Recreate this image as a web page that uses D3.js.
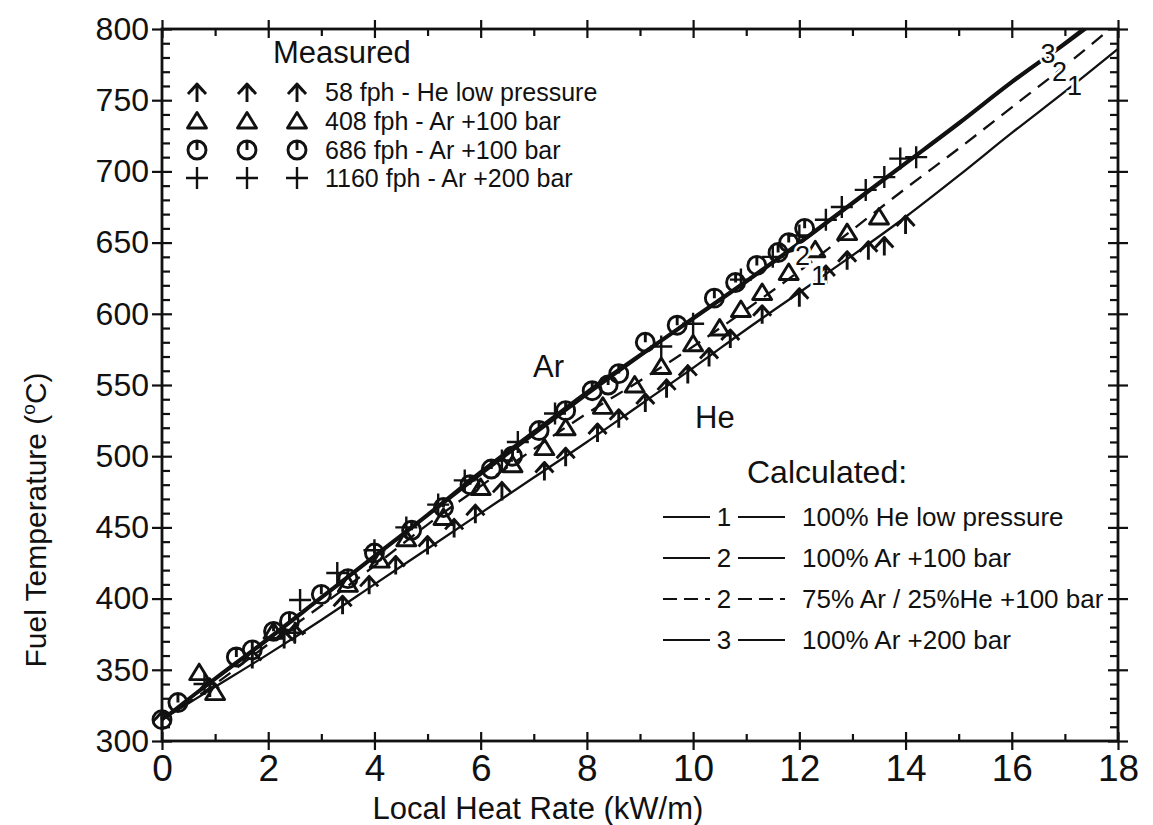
<!DOCTYPE html>
<html>
<head>
<meta charset="utf-8">
<script src="https://cdn.jsdelivr.net/npm/d3@7/dist/d3.min.js"></script>
<style>
  body { margin: 0; background: #fff; }
  text { font-family: "Liberation Sans", Arial, Helvetica, sans-serif; fill: #111; }
  .tick line { stroke: #111; stroke-width: 2.2; }
  .tick text { fill: #111; }
  .curve { fill: none; stroke: #111; }
  .mark { fill: none; stroke: #111; stroke-linejoin: round; }
</style>
</head>
<body>
<div class="d3Area"></div>
<script>
// ticks
let xTicks = [0, 2, 4, 6, 8, 10, 12, 14, 16, 18];
let xMinor = [1, 3, 5, 7, 9, 11, 13, 15, 17];
let yTicks = [300, 350, 400, 450, 500, 550, 600, 650, 700, 750, 800];
let yMinor = d3.range(310, 800, 10).filter((v) => v % 50 !== 0);

// measured points [kW/m, degC]
let he58 = [
  [0, 315], [0.9, 338], [1.7, 358], [2.3, 372], [2.5, 376], [3.4, 396], [3.9, 410],
  [4.4, 424], [5.0, 438], [5.5, 450], [5.9, 460], [6.4, 476], [7.2, 490], [7.6, 500],
  [8.2, 517], [8.6, 527], [9.1, 538], [9.5, 548], [9.9, 558], [10.3, 570], [10.7, 583],
  [11.3, 600], [12.0, 612], [12.5, 628], [12.9, 638], [13.3, 645], [13.6, 648], [14.0, 663]
];
let ar408 = [
  [0.7, 348], [1.0, 334], [2.1, 377], [3.5, 410], [4.1, 427], [4.6, 442], [5.3, 457],
  [6.0, 478], [6.6, 494], [7.2, 506], [7.6, 520], [8.3, 535], [8.9, 550], [9.4, 563],
  [10.0, 579], [10.5, 590], [10.9, 603], [11.3, 615], [11.8, 629], [12.3, 645],
  [12.9, 657], [13.5, 668]
];
let ar686 = [
  [0, 315], [0.3, 327], [1.4, 359], [1.7, 364], [2.1, 377], [2.4, 384], [3.0, 403],
  [3.5, 414], [4.0, 432], [4.7, 448], [5.3, 464], [5.8, 480], [6.2, 491], [6.6, 500],
  [7.1, 518], [7.6, 532], [8.1, 546], [8.4, 550], [8.6, 558], [9.1, 580], [9.7, 592],
  [10.4, 611], [10.8, 622], [11.2, 634], [11.6, 643], [11.8, 650], [12.1, 660]
];
let ar1160 = [
  [0.8, 340], [2.5, 376], [2.6, 399], [3.3, 418], [4.0, 434], [4.6, 450], [5.2, 466],
  [5.7, 483], [6.4, 497], [6.7, 510], [7.4, 530], [9.4, 577], [10.0, 593], [10.9, 624],
  [11.5, 640], [12.0, 655], [12.5, 666], [12.8, 675], [13.25, 687], [13.6, 696],
  [13.9, 709], [14.2, 710]
];

// calculated curves
let calc1 = [
  [0, 315], [1, 338], [2, 361], [3, 385], [4, 410], [5, 435], [6, 460], [7, 485],
  [8, 510], [9, 536], [10, 562], [11, 589], [12, 615], [13, 641], [14, 668],
  [15, 697], [16, 727], [17, 756], [18, 786]
];
let calc2 = [
  [0, 315], [1, 343], [2, 371], [3, 400], [4, 429], [5, 458], [6, 487], [7, 515],
  [8, 543], [9, 570], [10, 596], [11, 622], [12, 649], [13, 677], [14, 705],
  [15, 733], [16, 762], [17, 789], [17.4, 800]
];
let calc2b = [
  [0, 315], [1, 340], [2, 368], [3, 395], [4, 423], [5, 452], [6, 479], [7, 505],
  [8, 530], [9, 553], [10, 577], [11, 603], [12, 630], [13, 659], [14, 688],
  [15, 716], [16, 745], [17, 774], [17.85, 800]
];
let calc3 = [
  [0, 315], [1, 344], [2, 372], [3, 401], [4, 430], [5, 459], [6, 489], [7, 517],
  [8, 545], [9, 571], [10, 597], [11, 623], [12, 650], [13, 678], [14, 706],
  [15, 734], [16, 763], [17, 790], [17.35, 800]
];

let measuredNames = [
  "58 fph - He low pressure",
  "408 fph - Ar +100 bar",
  "686 fph - Ar +100 bar",
  "1160 fph - Ar +200 bar"
];
let calcNames = [
  "100% He low pressure",
  "100% Ar +100 bar",
  "75% Ar / 25%He +100 bar",
  "100% Ar +200 bar"
];
let calcTags = ["1", "2", "2", "3"];

let outerWidth = 1153,
  outerHeight = 825;
let margin = { top: 29, right: 35, bottom: 84, left: 162 };
let width = outerWidth - margin.left - margin.right,
  height = outerHeight - margin.top - margin.bottom;

let svg = d3
  .select(".d3Area")
  .append("svg")
  .attr("width", outerWidth)
  .attr("height", outerHeight);

let g = svg
  .append("g")
  .attr("transform", "translate(" + margin.left + "," + margin.top + ")");

let x = d3.scaleLinear().domain([0, 18]).range([0, width]);
let y = d3.scaleLinear().domain([300, 800]).range([height, 0]);

function noDomain(sel) {
  sel.select(".domain").remove();
}

// bottom axis: labels + ticks crossing the frame
g.append("g")
  .attr("transform", "translate(0," + height + ")")
  .call(d3.axisBottom(x).tickValues(xTicks).tickSize(9).tickPadding(5))
  .call(noDomain)
  .selectAll("text")
  .style("font-size", "37px");
g.append("g")
  .attr("transform", "translate(0," + height + ")")
  .call(d3.axisBottom(x).tickValues(xTicks).tickSize(-9).tickFormat(""))
  .call(noDomain);
g.append("g")
  .attr("transform", "translate(0," + height + ")")
  .call(d3.axisBottom(x).tickValues(xMinor).tickSize(-7).tickFormat(""))
  .call(noDomain);

// top axis
g.append("g")
  .call(d3.axisTop(x).tickValues(xTicks).tickSize(9).tickFormat(""))
  .call(noDomain);
g.append("g")
  .call(d3.axisTop(x).tickValues(xTicks).tickSize(-9).tickFormat(""))
  .call(noDomain);
g.append("g")
  .call(d3.axisTop(x).tickValues(xMinor).tickSize(-7).tickFormat(""))
  .call(noDomain);

// left axis
g.append("g")
  .call(d3.axisLeft(y).tickValues(yTicks).tickSize(10).tickPadding(3))
  .call(noDomain)
  .selectAll("text")
  .style("font-size", "32px");
g.append("g")
  .call(d3.axisLeft(y).tickValues(yTicks).tickSize(-10).tickFormat(""))
  .call(noDomain);
g.append("g")
  .call(d3.axisLeft(y).tickValues(yMinor).tickSize(-8).tickFormat(""))
  .call(noDomain);

// right axis
g.append("g")
  .attr("transform", "translate(" + width + ",0)")
  .call(d3.axisRight(y).tickValues(yTicks).tickSize(10).tickFormat(""))
  .call(noDomain);
g.append("g")
  .attr("transform", "translate(" + width + ",0)")
  .call(d3.axisRight(y).tickValues(yTicks).tickSize(-10).tickFormat(""))
  .call(noDomain);
g.append("g")
  .attr("transform", "translate(" + width + ",0)")
  .call(d3.axisRight(y).tickValues(yMinor).tickSize(-8).tickFormat(""))
  .call(noDomain);

// frame
g.append("rect")
  .attr("width", width)
  .attr("height", height)
  .attr("fill", "none")
  .attr("stroke", "#111")
  .attr("stroke-width", 2.8);

// axis titles
svg
  .append("text")
  .attr("x", 538)
  .attr("y", 819)
  .attr("text-anchor", "middle")
  .style("font-size", "31px")
  .text("Local Heat Rate (kW/m)");

let yTitle = svg
  .append("text")
  .attr("transform", "translate(46,520) rotate(-90)")
  .attr("text-anchor", "middle")
  .style("font-size", "30px");
yTitle.append("tspan").text("Fuel Temperature (");
yTitle.append("tspan").attr("dy", -11).style("font-size", "19px").text("o");
yTitle.append("tspan").attr("dy", 11).text("C)");

// calculated curves
let line = d3
  .line()
  .x((d) => x(d[0]))
  .y((d) => y(d[1]))
  .curve(d3.curveMonotoneX);

g.append("path").attr("class", "curve").attr("d", line(calc1)).attr("stroke-width", 2.3);
g.append("path")
  .attr("class", "curve")
  .attr("d", line(calc2b))
  .attr("stroke-width", 2.3)
  .attr("stroke-dasharray", "14,9");
g.append("path").attr("class", "curve").attr("d", line(calc2)).attr("stroke-width", 2.5);
g.append("path").attr("class", "curve").attr("d", line(calc3)).attr("stroke-width", 3.6);

// marker shapes
let shapes = {
  arrow: "M-9,2L0,-8L9,2M-6,-1L0,-8L6,-1M0,-8V10",
  tri: "M0,-8.5L9.5,7H-9.5Z",
  circ: "M-9,0A9,9 0 1,0 9,0A9,9 0 1,0 -9,0M0,-9V0",
  cross: "M-11,0H11M0,-11V11"
};

function plotMarks(data, shape) {
  g.append("g")
    .selectAll("path")
    .data(data)
    .enter()
    .append("path")
    .attr("class", "mark")
    .attr("d", shapes[shape])
    .attr("stroke-width", shape === "cross" ? 2.4 : 2.9)
    .attr("transform", (d) => "translate(" + x(d[0]) + "," + y(d[1]) + ")");
}
plotMarks(he58, "arrow");
plotMarks(ar408, "tri");
plotMarks(ar686, "circ");
plotMarks(ar1160, "cross");

// curve tags
function tag(t, xv, yv) {
  g.append("text")
    .attr("x", x(xv))
    .attr("y", y(yv))
    .attr("text-anchor", "middle")
    .attr("dy", "0.35em")
    .style("font-size", "27px")
    .style("paint-order", "stroke")
    .style("stroke", "#fff")
    .style("stroke-width", 5)
    .text(t);
}
tag("3", 16.68, 783);
tag("2", 16.9, 770);
tag("1", 17.18, 760);
tag("2", 12.06, 641);
tag("1", 12.36, 627);

// gas labels
svg.append("text").attr("x", 533).attr("y", 377).style("font-size", "31px").text("Ar");
svg.append("text").attr("x", 695).attr("y", 428).style("font-size", "31px").text("He");

// measured legend
svg.append("text").attr("x", 273).attr("y", 63).style("font-size", "31px").text("Measured");
let legShapes = ["arrow", "tri", "circ", "cross"];
let legRows = [92, 121, 150, 178];
let legCols = [197, 247, 297];
legShapes.forEach((s, i) => {
  legCols.forEach((cx) => {
    svg
      .append("path")
      .attr("class", "mark")
      .attr("d", shapes[s])
      .attr("stroke-width", s === "cross" ? 2.4 : 2.9)
      .attr("transform", "translate(" + cx + "," + legRows[i] + ")");
  });
  svg
    .append("text")
    .attr("x", 325)
    .attr("y", legRows[i])
    .attr("dy", "0.35em")
    .style("font-size", "25px")
    .text(measuredNames[i]);
});

// calculated legend
svg.append("text").attr("x", 747).attr("y", 483).style("font-size", "32px").text("Calculated:");
let calcRows = [517, 558, 599, 640];
calcNames.forEach((name, i) => {
  let cy = calcRows[i];
  let dashed = i === 2;
  [[663, 710], [738, 785]].forEach((seg) => {
    svg
      .append("line")
      .attr("x1", seg[0])
      .attr("x2", seg[1])
      .attr("y1", cy)
      .attr("y2", cy)
      .attr("stroke", "#111")
      .attr("stroke-width", 2.2)
      .attr("stroke-dasharray", dashed ? "14,7" : null);
  });
  svg
    .append("text")
    .attr("x", 724)
    .attr("y", cy)
    .attr("dy", "0.35em")
    .attr("text-anchor", "middle")
    .style("font-size", "26px")
    .text(calcTags[i]);
  svg
    .append("text")
    .attr("x", 802)
    .attr("y", cy)
    .attr("dy", "0.35em")
    .style("font-size", "26px")
    .text(name);
});
</script>
</body>
</html>
